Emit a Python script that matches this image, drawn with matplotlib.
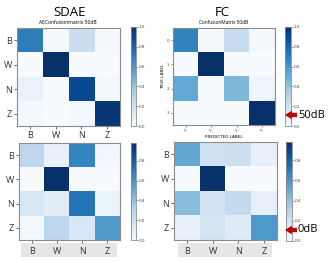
import matplotlib
matplotlib.use("Agg")
import matplotlib.pyplot as plt
import numpy as np
from matplotlib.patches import Rectangle, FancyArrowPatch

W, H = 332, 263
labels = ["B", "W", "N", "Z"]
num_labels = ["0", "1", "2", "3"]

sdae_50 = np.array([[0.70, 0.02, 0.22, 0.01],
                    [0.00, 1.00, 0.00, 0.00],
                    [0.07, 0.00, 0.90, 0.02],
                    [0.02, 0.00, 0.03, 0.97]])
fc_50 = np.array([[0.68, 0.01, 0.24, 0.02],
                  [0.00, 1.00, 0.00, 0.00],
                  [0.52, 0.00, 0.45, 0.04],
                  [0.00, 0.00, 0.00, 1.00]])
sdae_0 = np.array([[0.27, 0.07, 0.66, 0.03],
                   [0.00, 0.98, 0.00, 0.00],
                   [0.16, 0.10, 0.72, 0.05],
                   [0.02, 0.27, 0.15, 0.58]])
fc_0 = np.array([[0.52, 0.20, 0.21, 0.08],
                 [0.00, 0.98, 0.00, 0.00],
                 [0.42, 0.18, 0.25, 0.08],
                 [0.07, 0.17, 0.12, 0.58]])

FONT = "Open Sans"
EDGE = "#8c8c8c"


def rect(x0, y0, x1, y1):
    return [x0 / W, 1 - y1 / H, (x1 - x0) / W, (y1 - y0) / H]


fig = plt.figure(figsize=(W / 100, H / 100), dpi=100)


def panel(box, cbox, data, vmax):
    ax = fig.add_axes(rect(*box))
    im = ax.imshow(data, cmap="Blues", vmin=0, vmax=vmax, aspect="auto",
                   interpolation="nearest")
    for s in ax.spines.values():
        s.set_color(EDGE)
        s.set_linewidth(0.8)
    cax = fig.add_axes(rect(*cbox))
    cb = fig.colorbar(im, cax=cax, ticks=[0, 0.2, 0.4, 0.6, 0.8, 1.0])
    cb.outline.set_edgecolor(EDGE)
    cb.outline.set_linewidth(0.6)
    cax.tick_params(labelsize=3, length=1.5, width=0.4, pad=0.5,
                    colors="#444444")
    cax.set_yticklabels([f"{t:.1f}" for t in [0, 0.2, 0.4, 0.6, 0.8, 1.0]])
    ax.set_xticks(range(4))
    ax.set_yticks(range(4))
    return ax


def letter_ticks(ax):
    ax.set_xticklabels(labels, fontsize=6.5, family=FONT)
    ax.set_yticklabels(labels, fontsize=6.5, family=FONT)
    ax.tick_params(length=2, width=0.5, pad=1.5, colors="#333333")


# top-left SDAE 50dB
ax1 = panel((17, 28, 120, 126), (131, 27, 136, 126), sdae_50, 1.0)
letter_ticks(ax1)

# top-right FC 50dB
ax2 = panel((173, 28, 275, 125), (285, 27, 291, 126), fc_50, 1.0)
ax2.set_xticklabels(num_labels, fontsize=3, rotation=45)
ax2.set_yticklabels(num_labels, fontsize=3)
ax2.tick_params(length=1.5, width=0.4, pad=1, colors="#444444")
ax2.set_ylabel("TRUE LABEL", fontsize=3, labelpad=1)
ax2.set_xlabel("PREDICTED LABEL", fontsize=3, labelpad=1)

# bottom-left SDAE 0dB
ax3 = panel((19, 143, 120, 240), (131, 143, 136, 240), sdae_0, 0.98)
letter_ticks(ax3)
ax3.tick_params(axis="x", pad=3)

# bottom-right FC 0dB
ax4 = panel((174, 142, 277, 240), (286, 142, 292, 241), fc_0, 0.98)
letter_ticks(ax4)
ax4.tick_params(axis="x", pad=3)

# gray boxes behind bottom x labels
for x0, x1 in [(21, 117), (178, 272)]:
    r = rect(x0, 243, x1, 257)
    fig.patches.append(Rectangle((r[0], r[1]), r[2], r[3],
                                 transform=fig.transFigure,
                                 facecolor="#e6e6e6", edgecolor="none",
                                 zorder=-1))

# titles
fig.text(70 / W, 1 - 12 / H, "SDAE", fontsize=9.5, family=FONT,
         ha="center", va="center")
fig.text(68 / W, 1 - 22.5 / H, "AEConfusionmatrix 50dB", fontsize=3.6,
         family=FONT, ha="center", va="center")
fig.text(222 / W, 1 - 12 / H, "FC", fontsize=9.5, family=FONT,
         ha="center", va="center")
fig.text(224 / W, 1 - 22.5 / H, "ConfusionMatrix 50dB", fontsize=3.4,
         family=FONT, ha="center", va="center")

# red arrows with SNR labels
for y, txt in [(115, "50dB"), (230, "0dB")]:
    arr = FancyArrowPatch((297, H - y), (285, H - y),
                          transform=None, color="#c00000", lw=0,
                          arrowstyle="simple,head_width=0.9,head_length=0.7,tail_width=0.45",
                          mutation_scale=7, shrinkA=0, shrinkB=0)
    fig.patches.append(arr)
    fig.text(298 / W, 1 - y / H, txt, fontsize=8, family=FONT,
             ha="left", va="center")

fig.savefig("out.png", dpi=100)
